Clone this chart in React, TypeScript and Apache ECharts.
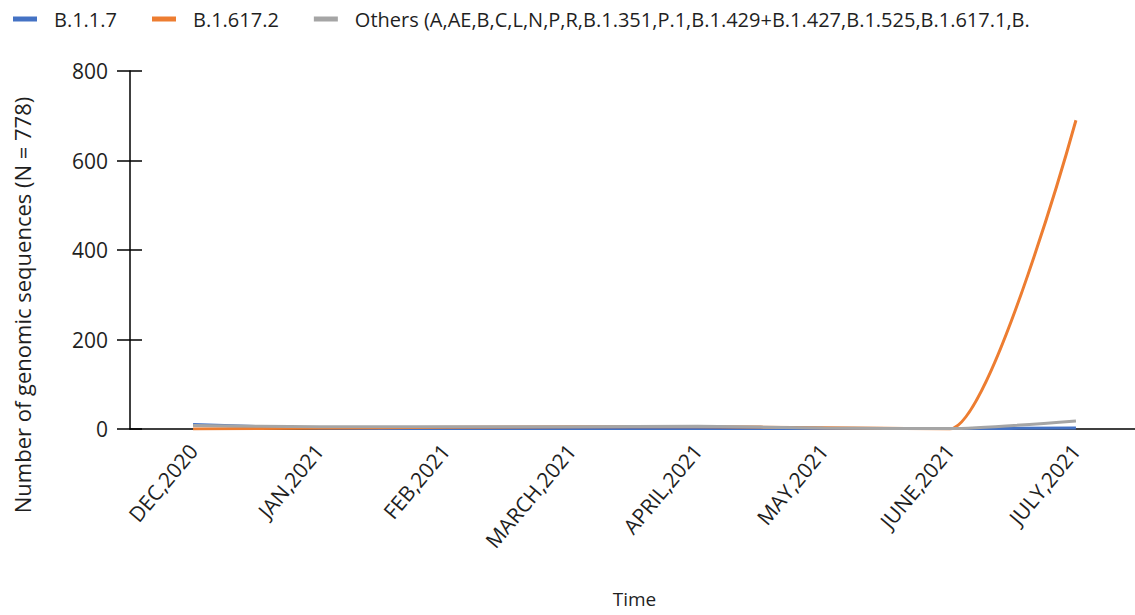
import React, { useEffect, useRef } from "react";
import * as echarts from "echarts";

const months = ["DEC,2020", "JAN,2021", "FEB,2021", "MARCH,2021", "APRIL,2021", "MAY,2021", "JUNE,2021", "JULY,2021"];
const seriesNames = [
  "B.1.1.7",
  "B.1.617.2",
  "Others (A,AE,B,C,L,N,P,R,B.1.351,P.1,B.1.429+B.1.427,B.1.525,B.1.617.1,B.",
];
const b117 = [10, 2, 1, 1, 1, 1, 1, 2];
const b16172 = [0, 2, 4, 5, 5, 3, 0, 690];
const others = [8, 5, 5, 5, 6, 2, 1, 18];
const colors = ["#4472C4", "#ED7D31", "#A5A5A5"];
const yTicks = { min: 0, max: 800, interval: 200 };

const FONT = "'Open Sans', 'Noto Sans', sans-serif";
const TEXT = "#1f1f1f";

export default function App() {
  const ref = useRef<HTMLDivElement>(null);
  useEffect(() => {
    if (!ref.current) return;
    const chart = echarts.init(ref.current, null, { renderer: "svg" });
    const values = [b117, b16172, others];
    chart.setOption({
      animation: false,
      textStyle: { fontFamily: FONT },
      legend: {
        left: 8,
        top: 4,
        itemWidth: 24,
        itemHeight: 5,
        itemGap: 35,
        icon: "rect",
        textStyle: { fontSize: 20, color: TEXT, fontFamily: FONT, padding: [0, 0, 0, 12] },
        data: seriesNames,
      },
      grid: { left: 130, top: 71, height: 358, width: 1009, containLabel: false, outerBoundsMode: "none" },
      xAxis: [
        {
          type: "category",
          data: months,
          boundaryGap: true,
          position: "bottom",
          axisLine: { lineStyle: { color: "#000", width: 1.5 } },
          axisTick: { alignWithLabel: true, length: 12, lineStyle: { color: "#000", width: 1.5 } },
          axisLabel: { rotate: 50, fontSize: 21, color: TEXT, margin: 18 },
          name: "Time",
          nameLocation: "middle",
          nameGap: 160,
          nameTextStyle: { fontSize: 19, color: TEXT },
        },
        {
          type: "category",
          data: months,
          boundaryGap: true,
          position: "bottom",
          axisLine: { show: false },
          axisTick: { inside: true, alignWithLabel: true, length: 12, lineStyle: { color: "#000", width: 1.5 } },
          axisLabel: { show: false },
        },
      ],
      yAxis: [
        {
          type: "value",
          ...yTicks,
          splitLine: { show: false },
          axisLine: { show: true, lineStyle: { color: "#000", width: 1.5 } },
          axisTick: { show: true, length: 13, lineStyle: { color: "#000", width: 1.5 } },
          axisLabel: { fontSize: 21, color: TEXT, margin: 22 },
        },
        {
          type: "value",
          ...yTicks,
          position: "left",
          splitLine: { show: false },
          axisLine: { show: false },
          axisTick: { show: true, inside: true, length: 12, lineStyle: { color: "#000", width: 1.5 } },
          axisLabel: { show: false },
        },
      ],
      graphic: [
        {
          type: "text",
          x: 22,
          y: 305,
          rotation: Math.PI / 2,
          style: {
            text: "Number of genomic sequences (N = 778)",
            fontSize: 22,
            fontFamily: FONT,
            fill: TEXT,
            textAlign: "center",
            textVerticalAlign: "middle",
          },
        },
      ],
      series: seriesNames.map((name, i) => ({
        name,
        type: "line",
        xAxisIndex: 0,
        yAxisIndex: 0,
        data: values[i],
        smooth: 0.22,
        showSymbol: false,
        symbol: "none",
        lineStyle: { width: 3, color: colors[i] },
        itemStyle: { color: colors[i] },
      })),
    });
    return () => chart.dispose();
  }, []);
  return <div ref={ref} style={{ position: "fixed", left: 0, top: 0, width: 1135, height: 615, background: "#fff" }} />;
}
